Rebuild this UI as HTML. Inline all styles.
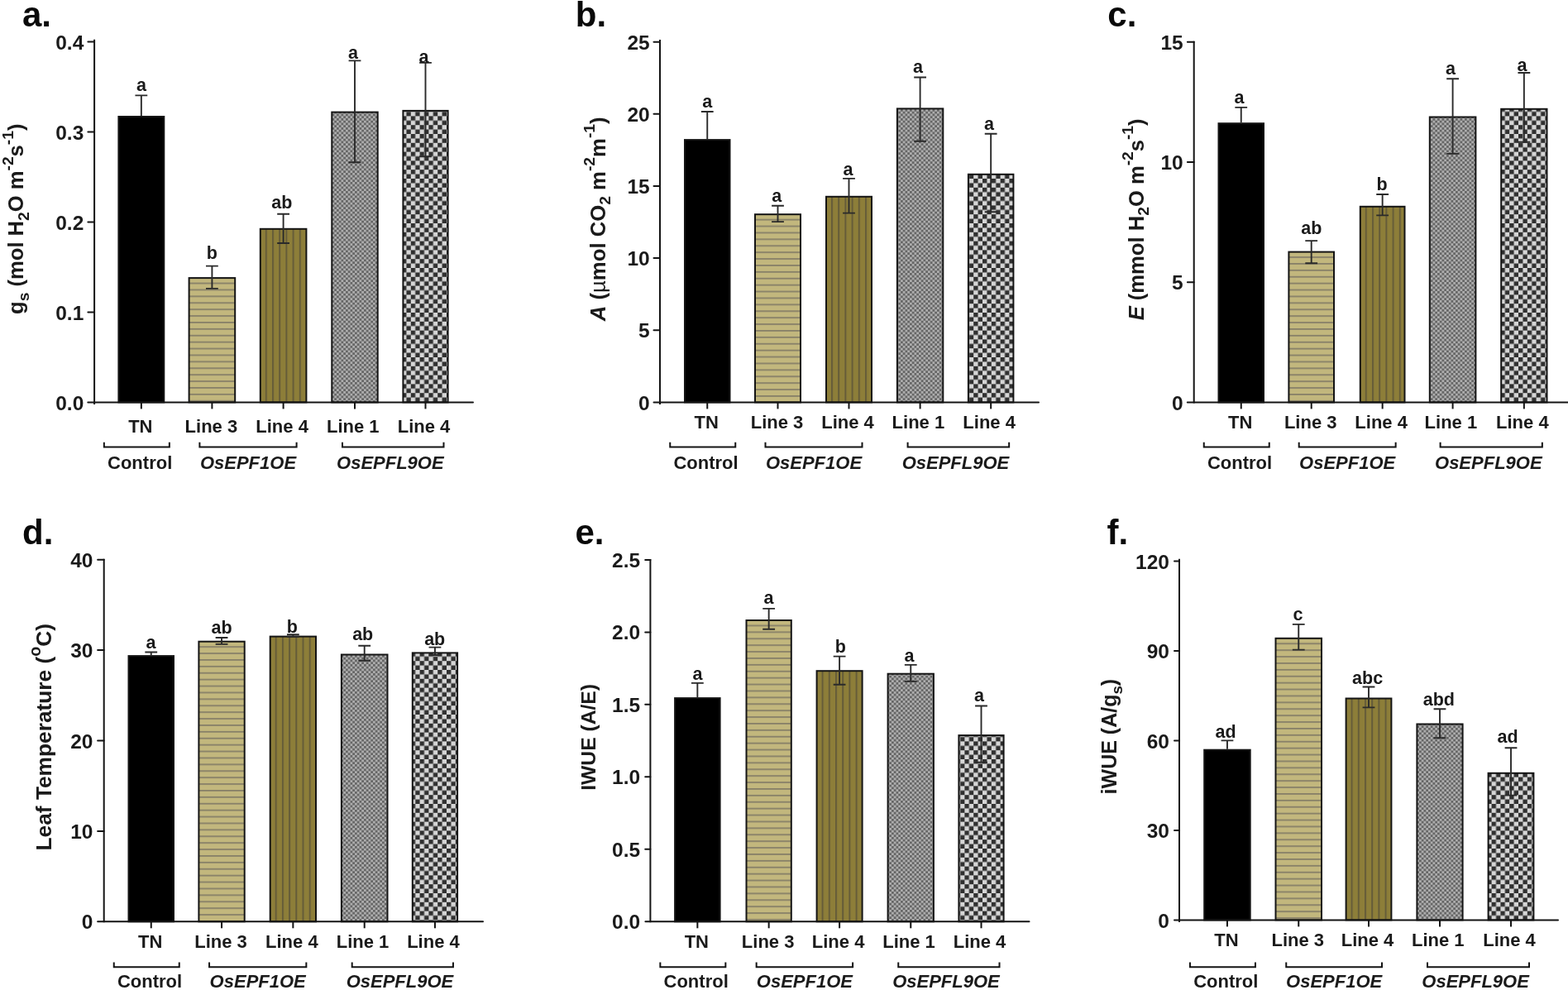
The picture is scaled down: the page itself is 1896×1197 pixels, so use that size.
<!DOCTYPE html>
<html><head><meta charset="utf-8"><title>Figure</title><style>
html,body{margin:0;padding:0;background:#fff;}
svg{display:block;}
text{font-family:"Liberation Sans", Arial, sans-serif;font-weight:bold;fill:#1a1a1a;}
.pl{font-size:42px;fill:#0a0a0a;}
.tl{font-size:24.5px;text-anchor:end;}
.cl{font-size:22px;text-anchor:middle;}
.gl{font-size:22px;text-anchor:middle;}
.sl{font-size:21.5px;text-anchor:middle;}
.yt{text-anchor:middle;}
</style></head>
<body>
<svg width="1896" height="1197" viewBox="0 0 1896 1197">
<defs>
<pattern id="hstripe" patternUnits="userSpaceOnUse" x="0" y="0.5" width="8" height="7.9">
<rect width="8" height="7.9" fill="#c2b77d"/><rect y="0" width="8" height="1.8" fill="#878068"/>
</pattern>
<pattern id="vstripe" patternUnits="userSpaceOnUse" x="0" y="0" width="8.2" height="8">
<rect width="8.2" height="8" fill="#8d7e39"/><rect x="0" width="2" height="8" fill="#655c39"/>
</pattern>
<pattern id="fcheck" patternUnits="userSpaceOnUse" x="0" y="0" width="5.5" height="5.5">
<rect width="5.5" height="5.5" fill="#adadad"/><rect width="2.75" height="2.75" fill="#666"/><rect x="2.75" y="2.75" width="2.75" height="2.75" fill="#666"/>
</pattern>
<pattern id="ccheck" patternUnits="userSpaceOnUse" x="0" y="0" width="10.8" height="10.8">
<rect width="10.8" height="10.8" fill="#d6d6d6"/><rect width="5.4" height="5.4" fill="#303030"/><rect x="5.4" y="5.4" width="5.4" height="5.4" fill="#303030"/>
</pattern>
</defs>
<rect width="1896" height="1197" fill="#fff"/>
<text x="27" y="32" class="pl">a.</text>
<defs><pattern id="hsa" href="#hstripe" x="0" y="341.6"/><pattern id="vsa" href="#vstripe" x="320.8" y="0"/></defs>
<rect x="143.4" y="141" width="54.9" height="345.4" fill="#000" stroke="#141414" stroke-width="2"/>
<rect x="228.6" y="336.1" width="55.6" height="150.3" fill="url(#hsa)" stroke="#141414" stroke-width="2"/>
<rect x="314.8" y="276.8" width="55.6" height="209.6" fill="url(#vsa)" stroke="#141414" stroke-width="2"/>
<rect x="401.3" y="135.6" width="55.4" height="350.8" fill="url(#fcheck)" stroke="#141414" stroke-width="2"/>
<rect x="487.4" y="133.9" width="54.2" height="352.5" fill="url(#ccheck)" stroke="#141414" stroke-width="2"/>
<path d="M170.85 115.4V140M163.45 115.4H178.25" stroke="#2a2a2a" stroke-width="1.9" fill="none"/>
<text x="170.95" y="110.2" class="sl">a</text>
<path d="M256.4 321.6V348.9M249 321.6H263.8M249 348.9H263.8" stroke="#2a2a2a" stroke-width="1.9" fill="none"/>
<text x="256.3" y="312.8" class="sl">b</text>
<path d="M342.6 258.8V294M335.2 258.8H350M335.2 294H350" stroke="#2a2a2a" stroke-width="1.9" fill="none"/>
<text x="340.9" y="251.7" class="sl">ab</text>
<path d="M429 73.4V196.2M421.6 73.4H436.4M421.6 196.2H436.4" stroke="#2a2a2a" stroke-width="1.9" fill="none"/>
<text x="427.1" y="71.4" class="sl">a</text>
<path d="M514.5 75.9V189.3M507.1 75.9H521.9M507.1 189.3H521.9" stroke="#2a2a2a" stroke-width="1.9" fill="none"/>
<text x="512.5" y="75.7" class="sl">a</text>
<path d="M114.1 47.8V489" stroke="#141414" stroke-width="2" fill="none"/>
<path d="M106.3 486.4H572" stroke="#141414" stroke-width="2" stroke-linecap="round" fill="none"/>
<text x="101.3" y="495.5" class="tl">0.0</text>
<path d="M106.4 377.45H114.1" stroke="#141414" stroke-width="2" stroke-linecap="round"/>
<text x="101.3" y="386.55" class="tl">0.1</text>
<path d="M106.4 268.5H114.1" stroke="#141414" stroke-width="2" stroke-linecap="round"/>
<text x="101.3" y="277.6" class="tl">0.2</text>
<path d="M106.4 159.55H114.1" stroke="#141414" stroke-width="2" stroke-linecap="round"/>
<text x="101.3" y="168.65" class="tl">0.3</text>
<path d="M106.4 50.6H114.1" stroke="#141414" stroke-width="2" stroke-linecap="round"/>
<text x="101.3" y="59.7" class="tl">0.4</text>
<path d="M170.85 486.4V494.4" stroke="#141414" stroke-width="2"/>
<text x="169.85" y="522.6" class="cl">TN</text>
<path d="M256.4 486.4V494.4" stroke="#141414" stroke-width="2"/>
<text x="255.4" y="522.6" class="cl">Line 3</text>
<path d="M342.6 486.4V494.4" stroke="#141414" stroke-width="2"/>
<text x="341.1" y="522.6" class="cl">Line 4</text>
<path d="M429 486.4V494.4" stroke="#141414" stroke-width="2"/>
<text x="426.8" y="522.6" class="cl">Line 1</text>
<path d="M514.5 486.4V494.4" stroke="#141414" stroke-width="2"/>
<text x="512.5" y="522.6" class="cl">Line 4</text>
<path d="M125.85 534.8V540.6H204.85V534.8" stroke="#141414" stroke-width="2" fill="none"/>
<text x="169.15" y="567.3" class="gl">Control</text>
<path d="M241.4 534.8V540.6H358.6V534.8" stroke="#141414" stroke-width="2" fill="none"/>
<text x="300" y="567.3" class="gl" font-style="italic">OsEPF1OE</text>
<path d="M414 534.8V540.6H536.5V534.8" stroke="#141414" stroke-width="2" fill="none"/>
<text x="471.85" y="567.3" class="gl" font-style="italic">OsEPFL9OE</text>
<text transform="translate(28.4 264.75) rotate(-90)" class="yt" font-size="25.6">g<tspan font-size="19.2" dy="6.4">s</tspan><tspan dy="-6.4"> (mol H</tspan><tspan font-size="19.2" dy="6.4">2</tspan><tspan dy="-6.4">O m</tspan><tspan font-size="19.2" dy="-12.54">-2</tspan><tspan dy="12.54">s</tspan><tspan font-size="19.2" dy="-12.54">-1</tspan><tspan dy="12.54">)</tspan></text>
<text x="695.8" y="32" class="pl">b.</text>
<defs><pattern id="hsb" href="#hstripe" x="0" y="264.7"/><pattern id="vsb" href="#vstripe" x="1005" y="0"/></defs>
<rect x="828" y="169.1" width="54.5" height="317.3" fill="#000" stroke="#141414" stroke-width="2"/>
<rect x="913" y="259.2" width="55" height="227.2" fill="url(#hsb)" stroke="#141414" stroke-width="2"/>
<rect x="999" y="237.8" width="55" height="248.6" fill="url(#vsb)" stroke="#141414" stroke-width="2"/>
<rect x="1084.9" y="131.4" width="55.4" height="355" fill="url(#fcheck)" stroke="#141414" stroke-width="2"/>
<rect x="1170.9" y="210.8" width="54.5" height="275.6" fill="url(#ccheck)" stroke="#141414" stroke-width="2"/>
<path d="M855.25 135V168.1M847.85 135H862.65" stroke="#2a2a2a" stroke-width="1.9" fill="none"/>
<text x="855.2" y="130.2" class="sl">a</text>
<path d="M940.5 248.8V268.1M933.1 248.8H947.9M933.1 268.1H947.9" stroke="#2a2a2a" stroke-width="1.9" fill="none"/>
<text x="939.3" y="243.8" class="sl">a</text>
<path d="M1026.5 215.9V257.6M1019.1 215.9H1033.9M1019.1 257.6H1033.9" stroke="#2a2a2a" stroke-width="1.9" fill="none"/>
<text x="1025.6" y="211.7" class="sl">a</text>
<path d="M1112.6 93.5V170.8M1105.2 93.5H1120M1105.2 170.8H1120" stroke="#2a2a2a" stroke-width="1.9" fill="none"/>
<text x="1110" y="87.6" class="sl">a</text>
<path d="M1198.15 161.7V256.3M1190.75 161.7H1205.55M1190.75 256.3H1205.55" stroke="#2a2a2a" stroke-width="1.9" fill="none"/>
<text x="1196" y="156.5" class="sl">a</text>
<path d="M798 47.9V489" stroke="#141414" stroke-width="2" fill="none"/>
<path d="M790.5 486.4H1256" stroke="#141414" stroke-width="2" stroke-linecap="round" fill="none"/>
<text x="785.7" y="495.5" class="tl">0</text>
<path d="M790.5 399.26H798" stroke="#141414" stroke-width="2" stroke-linecap="round"/>
<text x="785.7" y="408.36" class="tl">5</text>
<path d="M790.5 312.12H798" stroke="#141414" stroke-width="2" stroke-linecap="round"/>
<text x="785.7" y="321.22" class="tl">10</text>
<path d="M790.5 224.98H798" stroke="#141414" stroke-width="2" stroke-linecap="round"/>
<text x="785.7" y="234.08" class="tl">15</text>
<path d="M790.5 137.84H798" stroke="#141414" stroke-width="2" stroke-linecap="round"/>
<text x="785.7" y="146.94" class="tl">20</text>
<path d="M790.5 50.7H798" stroke="#141414" stroke-width="2" stroke-linecap="round"/>
<text x="785.7" y="59.8" class="tl">25</text>
<path d="M855.25 486.4V494.4" stroke="#141414" stroke-width="2"/>
<text x="854.25" y="518" class="cl">TN</text>
<path d="M940.5 486.4V494.4" stroke="#141414" stroke-width="2"/>
<text x="939.5" y="518" class="cl">Line 3</text>
<path d="M1026.5 486.4V494.4" stroke="#141414" stroke-width="2"/>
<text x="1025" y="518" class="cl">Line 4</text>
<path d="M1112.6 486.4V494.4" stroke="#141414" stroke-width="2"/>
<text x="1110.4" y="518" class="cl">Line 1</text>
<path d="M1198.15 486.4V494.4" stroke="#141414" stroke-width="2"/>
<text x="1196.15" y="518" class="cl">Line 4</text>
<path d="M810.25 534.8V540.6H889.25V534.8" stroke="#141414" stroke-width="2" fill="none"/>
<text x="853.55" y="567.3" class="gl">Control</text>
<path d="M925.5 534.8V540.6H1042.5V534.8" stroke="#141414" stroke-width="2" fill="none"/>
<text x="984" y="567.3" class="gl" font-style="italic">OsEPF1OE</text>
<path d="M1097.6 534.8V540.6H1220.15V534.8" stroke="#141414" stroke-width="2" fill="none"/>
<text x="1155.47" y="567.3" class="gl" font-style="italic">OsEPFL9OE</text>
<text transform="translate(731.8 264.8) rotate(-90)" class="yt" font-size="25.7"><tspan font-style="italic">A</tspan> (<tspan font-weight="normal">µ</tspan>mol CO<tspan font-size="19.27" dy="6.42">2</tspan><tspan dy="-6.42"> m</tspan><tspan font-size="19.27" dy="-12.59">-2</tspan><tspan dy="12.59">m</tspan><tspan font-size="19.27" dy="-12.59">-1</tspan><tspan dy="12.59">)</tspan></text>
<text x="1339.3" y="32" class="pl">c.</text>
<defs><pattern id="hsc" href="#hstripe" x="0" y="310.1"/><pattern id="vsc" href="#vstripe" x="1650.8" y="0"/></defs>
<rect x="1473.5" y="149.2" width="54.5" height="337.2" fill="#000" stroke="#141414" stroke-width="2"/>
<rect x="1558.4" y="304.6" width="54.6" height="181.8" fill="url(#hsc)" stroke="#141414" stroke-width="2"/>
<rect x="1644.8" y="249.8" width="53.7" height="236.6" fill="url(#vsc)" stroke="#141414" stroke-width="2"/>
<rect x="1728.8" y="141.5" width="55.6" height="344.9" fill="url(#fcheck)" stroke="#141414" stroke-width="2"/>
<rect x="1815.2" y="131.8" width="55.3" height="354.6" fill="url(#ccheck)" stroke="#141414" stroke-width="2"/>
<path d="M1500.75 129.9V148.2M1493.35 129.9H1508.15" stroke="#2a2a2a" stroke-width="1.9" fill="none"/>
<text x="1498.6" y="125" class="sl">a</text>
<path d="M1585.7 291.1V318.3M1578.3 291.1H1593.1M1578.3 318.3H1593.1" stroke="#2a2a2a" stroke-width="1.9" fill="none"/>
<text x="1585.8" y="282.8" class="sl">ab</text>
<path d="M1671.65 235V260.4M1664.25 235H1679.05M1664.25 260.4H1679.05" stroke="#2a2a2a" stroke-width="1.9" fill="none"/>
<text x="1671" y="230.4" class="sl">b</text>
<path d="M1756.6 95.3V185.9M1749.2 95.3H1764M1749.2 185.9H1764" stroke="#2a2a2a" stroke-width="1.9" fill="none"/>
<text x="1754.1" y="90.3" class="sl">a</text>
<path d="M1842.85 88V171.8M1835.45 88H1850.25M1835.45 171.8H1850.25" stroke="#2a2a2a" stroke-width="1.9" fill="none"/>
<text x="1840.5" y="85.7" class="sl">a</text>
<path d="M1443.7 49.7V487.4" stroke="#141414" stroke-width="2" fill="none"/>
<path d="M1435.8 486.4H1896" stroke="#141414" stroke-width="2" stroke-linecap="round" fill="none"/>
<text x="1430.7" y="495.5" class="tl">0</text>
<path d="M1435.9 341.17H1443.7" stroke="#141414" stroke-width="2" stroke-linecap="round"/>
<text x="1430.7" y="350.27" class="tl">5</text>
<path d="M1435.9 195.93H1443.7" stroke="#141414" stroke-width="2" stroke-linecap="round"/>
<text x="1430.7" y="205.03" class="tl">10</text>
<path d="M1435.9 50.7H1443.7" stroke="#141414" stroke-width="2" stroke-linecap="round"/>
<text x="1430.7" y="59.8" class="tl">15</text>
<path d="M1500.75 486.4V494.4" stroke="#141414" stroke-width="2"/>
<text x="1499.75" y="518" class="cl">TN</text>
<path d="M1585.7 486.4V494.4" stroke="#141414" stroke-width="2"/>
<text x="1584.7" y="518" class="cl">Line 3</text>
<path d="M1671.65 486.4V494.4" stroke="#141414" stroke-width="2"/>
<text x="1670.15" y="518" class="cl">Line 4</text>
<path d="M1756.6 486.4V494.4" stroke="#141414" stroke-width="2"/>
<text x="1754.4" y="518" class="cl">Line 1</text>
<path d="M1842.85 486.4V494.4" stroke="#141414" stroke-width="2"/>
<text x="1840.85" y="518" class="cl">Line 4</text>
<path d="M1455.75 534.8V540.6H1534.75V534.8" stroke="#141414" stroke-width="2" fill="none"/>
<text x="1499.05" y="567.3" class="gl">Control</text>
<path d="M1570.7 534.8V540.6H1687.65V534.8" stroke="#141414" stroke-width="2" fill="none"/>
<text x="1629.18" y="567.3" class="gl" font-style="italic">OsEPF1OE</text>
<path d="M1741.6 534.8V540.6H1864.85V534.8" stroke="#141414" stroke-width="2" fill="none"/>
<text x="1799.82" y="567.3" class="gl" font-style="italic">OsEPFL9OE</text>
<text transform="translate(1382.7 265.4) rotate(-90)" class="yt" font-size="25.6"><tspan font-style="italic">E</tspan> (mmol H<tspan font-size="19.2" dy="6.4">2</tspan><tspan dy="-6.4">O m</tspan><tspan font-size="19.2" dy="-12.54">-2</tspan><tspan dy="12.54">s</tspan><tspan font-size="19.2" dy="-12.54">-1</tspan><tspan dy="12.54">)</tspan></text>
<text x="27" y="658" class="pl">d.</text>
<defs><pattern id="hsd" href="#hstripe" x="0" y="781.2"/><pattern id="vsd" href="#vstripe" x="332.7" y="0"/></defs>
<rect x="155.5" y="793.1" width="54.5" height="321.2" fill="#000" stroke="#141414" stroke-width="2"/>
<rect x="240.4" y="775.7" width="55.3" height="338.6" fill="url(#hsd)" stroke="#141414" stroke-width="2"/>
<rect x="326.7" y="769.6" width="55.3" height="344.7" fill="url(#vsd)" stroke="#141414" stroke-width="2"/>
<rect x="412.9" y="791.5" width="55.6" height="322.8" fill="url(#fcheck)" stroke="#141414" stroke-width="2"/>
<rect x="498.8" y="789.4" width="54.3" height="324.9" fill="url(#ccheck)" stroke="#141414" stroke-width="2"/>
<path d="M182.75 788.5V792.1M175.35 788.5H190.15" stroke="#2a2a2a" stroke-width="1.9" fill="none"/>
<text x="182.5" y="783.5" class="sl">a</text>
<path d="M268.05 771V778.9M260.65 771H275.45M260.65 778.9H275.45" stroke="#2a2a2a" stroke-width="1.9" fill="none"/>
<text x="268" y="765.7" class="sl">ab</text>
<path d="M354.35 767.3V769.7M346.95 767.3H361.75M346.95 769.7H361.75" stroke="#2a2a2a" stroke-width="1.9" fill="none"/>
<text x="353.3" y="765" class="sl">b</text>
<path d="M440.7 780.8V798.7M433.3 780.8H448.1M433.3 798.7H448.1" stroke="#2a2a2a" stroke-width="1.9" fill="none"/>
<text x="438.7" y="774.1" class="sl">ab</text>
<path d="M525.95 782.6V792M518.55 782.6H533.35M518.55 792H533.35" stroke="#2a2a2a" stroke-width="1.9" fill="none"/>
<text x="525.7" y="779.5" class="sl">ab</text>
<path d="M125.7 675.7V1115.3" stroke="#141414" stroke-width="2" fill="none"/>
<path d="M118.1 1114.3H584" stroke="#141414" stroke-width="2" stroke-linecap="round" fill="none"/>
<text x="112.5" y="1123.4" class="tl">0</text>
<path d="M118.1 1004.9H125.7" stroke="#141414" stroke-width="2" stroke-linecap="round"/>
<text x="112.5" y="1014" class="tl">10</text>
<path d="M118.1 895.5H125.7" stroke="#141414" stroke-width="2" stroke-linecap="round"/>
<text x="112.5" y="904.6" class="tl">20</text>
<path d="M118.1 786.1H125.7" stroke="#141414" stroke-width="2" stroke-linecap="round"/>
<text x="112.5" y="795.2" class="tl">30</text>
<path d="M118.1 676.7H125.7" stroke="#141414" stroke-width="2" stroke-linecap="round"/>
<text x="112.5" y="685.8" class="tl">40</text>
<path d="M182.75 1114.3V1122.3" stroke="#141414" stroke-width="2"/>
<text x="181.75" y="1145.9" class="cl">TN</text>
<path d="M268.05 1114.3V1122.3" stroke="#141414" stroke-width="2"/>
<text x="267.05" y="1145.9" class="cl">Line 3</text>
<path d="M354.35 1114.3V1122.3" stroke="#141414" stroke-width="2"/>
<text x="352.85" y="1145.9" class="cl">Line 4</text>
<path d="M440.7 1114.3V1122.3" stroke="#141414" stroke-width="2"/>
<text x="438.5" y="1145.9" class="cl">Line 1</text>
<path d="M525.95 1114.3V1122.3" stroke="#141414" stroke-width="2"/>
<text x="523.95" y="1145.9" class="cl">Line 4</text>
<path d="M137.75 1163.5V1169.3H216.75V1163.5" stroke="#141414" stroke-width="2" fill="none"/>
<text x="181.05" y="1194.3" class="gl">Control</text>
<path d="M253.05 1163.5V1169.3H370.35V1163.5" stroke="#141414" stroke-width="2" fill="none"/>
<text x="311.7" y="1194.3" class="gl" font-style="italic">OsEPF1OE</text>
<path d="M425.7 1163.5V1169.3H547.95V1163.5" stroke="#141414" stroke-width="2" fill="none"/>
<text x="483.43" y="1194.3" class="gl" font-style="italic">OsEPFL9OE</text>
<text transform="translate(61.7 891.2) rotate(-90)" class="yt" font-size="26.3">Leaf Temperature (<tspan font-size="19.73" dy="-12.89">o</tspan><tspan dy="12.89">C)</tspan></text>
<text x="695.5" y="658.2" class="pl">e.</text>
<defs><pattern id="hse" href="#hstripe" x="0" y="755.5"/><pattern id="vse" href="#vstripe" x="993.6" y="0"/></defs>
<rect x="816.1" y="844.1" width="54.5" height="270.2" fill="#000" stroke="#141414" stroke-width="2"/>
<rect x="902.5" y="750" width="54.3" height="364.3" fill="url(#hse)" stroke="#141414" stroke-width="2"/>
<rect x="987.6" y="811.2" width="55" height="303.1" fill="url(#vse)" stroke="#141414" stroke-width="2"/>
<rect x="1073.6" y="814.7" width="55.3" height="299.6" fill="url(#fcheck)" stroke="#141414" stroke-width="2"/>
<rect x="1159.4" y="889.1" width="54.2" height="225.2" fill="url(#ccheck)" stroke="#141414" stroke-width="2"/>
<path d="M843.35 825.9V843.1M835.95 825.9H850.75" stroke="#2a2a2a" stroke-width="1.9" fill="none"/>
<text x="843.6" y="822" class="sl">a</text>
<path d="M929.65 735.9V760.8M922.25 735.9H937.05M922.25 760.8H937.05" stroke="#2a2a2a" stroke-width="1.9" fill="none"/>
<text x="929.6" y="730.2" class="sl">a</text>
<path d="M1015.1 793.6V827.8M1007.7 793.6H1022.5M1007.7 827.8H1022.5" stroke="#2a2a2a" stroke-width="1.9" fill="none"/>
<text x="1016.4" y="789.2" class="sl">b</text>
<path d="M1101.25 803.9V823.9M1093.85 803.9H1108.65M1093.85 823.9H1108.65" stroke="#2a2a2a" stroke-width="1.9" fill="none"/>
<text x="1099.4" y="799.8" class="sl">a</text>
<path d="M1186.5 853.5V921.7M1179.1 853.5H1193.9M1179.1 921.7H1193.9" stroke="#2a2a2a" stroke-width="1.9" fill="none"/>
<text x="1184" y="848" class="sl">a</text>
<path d="M786.4 675.9V1115.3" stroke="#141414" stroke-width="2" fill="none"/>
<path d="M780.4 1114.3H1244.5" stroke="#141414" stroke-width="2" stroke-linecap="round" fill="none"/>
<text x="774.1" y="1123.4" class="tl">0.0</text>
<path d="M780.2 1026.82H786.4" stroke="#141414" stroke-width="2" stroke-linecap="round"/>
<text x="774.1" y="1035.92" class="tl">0.5</text>
<path d="M780.2 939.34H786.4" stroke="#141414" stroke-width="2" stroke-linecap="round"/>
<text x="774.1" y="948.44" class="tl">1.0</text>
<path d="M780.2 851.86H786.4" stroke="#141414" stroke-width="2" stroke-linecap="round"/>
<text x="774.1" y="860.96" class="tl">1.5</text>
<path d="M780.2 764.38H786.4" stroke="#141414" stroke-width="2" stroke-linecap="round"/>
<text x="774.1" y="773.48" class="tl">2.0</text>
<path d="M780.2 676.9H786.4" stroke="#141414" stroke-width="2" stroke-linecap="round"/>
<text x="774.1" y="686" class="tl">2.5</text>
<path d="M843.35 1114.3V1122.3" stroke="#141414" stroke-width="2"/>
<text x="842.35" y="1145.9" class="cl">TN</text>
<path d="M929.65 1114.3V1122.3" stroke="#141414" stroke-width="2"/>
<text x="928.65" y="1145.9" class="cl">Line 3</text>
<path d="M1015.1 1114.3V1122.3" stroke="#141414" stroke-width="2"/>
<text x="1013.6" y="1145.9" class="cl">Line 4</text>
<path d="M1101.25 1114.3V1122.3" stroke="#141414" stroke-width="2"/>
<text x="1099.05" y="1145.9" class="cl">Line 1</text>
<path d="M1186.5 1114.3V1122.3" stroke="#141414" stroke-width="2"/>
<text x="1184.5" y="1145.9" class="cl">Line 4</text>
<path d="M798.35 1163.5V1169.3H877.35V1163.5" stroke="#141414" stroke-width="2" fill="none"/>
<text x="841.65" y="1194.3" class="gl">Control</text>
<path d="M914.65 1163.5V1169.3H1031.1V1163.5" stroke="#141414" stroke-width="2" fill="none"/>
<text x="972.88" y="1194.3" class="gl" font-style="italic">OsEPF1OE</text>
<path d="M1086.25 1163.5V1169.3H1208.5V1163.5" stroke="#141414" stroke-width="2" fill="none"/>
<text x="1143.97" y="1194.3" class="gl" font-style="italic">OsEPFL9OE</text>
<text transform="translate(720 891.4) rotate(-90)" class="yt" font-size="24.7">IWUE (A/E)</text>
<text x="1338.5" y="658" class="pl">f.</text>
<defs><pattern id="hsf" href="#hstripe" x="0" y="777.3"/><pattern id="vsf" href="#vstripe" x="1633.6" y="0"/></defs>
<rect x="1456.2" y="906.7" width="55.5" height="205.7" fill="#000" stroke="#141414" stroke-width="2"/>
<rect x="1542.5" y="771.8" width="55.5" height="340.6" fill="url(#hsf)" stroke="#141414" stroke-width="2"/>
<rect x="1627.6" y="844.5" width="54.8" height="267.9" fill="url(#vsf)" stroke="#141414" stroke-width="2"/>
<rect x="1713.4" y="875.5" width="55.2" height="236.9" fill="url(#fcheck)" stroke="#141414" stroke-width="2"/>
<rect x="1799.6" y="934.8" width="54.8" height="177.6" fill="url(#ccheck)" stroke="#141414" stroke-width="2"/>
<path d="M1483.95 895.4V905.7M1476.55 895.4H1491.35" stroke="#2a2a2a" stroke-width="1.9" fill="none"/>
<text x="1482.1" y="891.9" class="sl">ad</text>
<path d="M1570.25 754.9V785.6M1562.85 754.9H1577.65M1562.85 785.6H1577.65" stroke="#2a2a2a" stroke-width="1.9" fill="none"/>
<text x="1569.4" y="750.3" class="sl">c</text>
<path d="M1655 830.5V855.4M1647.6 830.5H1662.4M1647.6 855.4H1662.4" stroke="#2a2a2a" stroke-width="1.9" fill="none"/>
<text x="1653.6" y="826.5" class="sl">abc</text>
<path d="M1741 857.3V892.3M1733.6 857.3H1748.4M1733.6 892.3H1748.4" stroke="#2a2a2a" stroke-width="1.9" fill="none"/>
<text x="1739.8" y="853.2" class="sl">abd</text>
<path d="M1827 904.2V961.6M1819.6 904.2H1834.4M1819.6 961.6H1834.4" stroke="#2a2a2a" stroke-width="1.9" fill="none"/>
<text x="1823" y="897.7" class="sl">ad</text>
<path d="M1426 675.7V1115" stroke="#141414" stroke-width="2" fill="none"/>
<path d="M1420 1112.4H1884" stroke="#141414" stroke-width="2" stroke-linecap="round" fill="none"/>
<text x="1414" y="1121.5" class="tl">0</text>
<path d="M1420 1003.93H1426" stroke="#141414" stroke-width="2" stroke-linecap="round"/>
<text x="1414" y="1013.03" class="tl">30</text>
<path d="M1420 895.45H1426" stroke="#141414" stroke-width="2" stroke-linecap="round"/>
<text x="1414" y="904.55" class="tl">60</text>
<path d="M1420 786.98H1426" stroke="#141414" stroke-width="2" stroke-linecap="round"/>
<text x="1414" y="796.08" class="tl">90</text>
<path d="M1420 678.5H1426" stroke="#141414" stroke-width="2" stroke-linecap="round"/>
<text x="1414" y="687.6" class="tl">120</text>
<path d="M1483.95 1112.4V1120.4" stroke="#141414" stroke-width="2"/>
<text x="1482.95" y="1144" class="cl">TN</text>
<path d="M1570.25 1112.4V1120.4" stroke="#141414" stroke-width="2"/>
<text x="1569.25" y="1144" class="cl">Line 3</text>
<path d="M1655 1112.4V1120.4" stroke="#141414" stroke-width="2"/>
<text x="1653.5" y="1144" class="cl">Line 4</text>
<path d="M1741 1112.4V1120.4" stroke="#141414" stroke-width="2"/>
<text x="1738.8" y="1144" class="cl">Line 1</text>
<path d="M1827 1112.4V1120.4" stroke="#141414" stroke-width="2"/>
<text x="1825" y="1144" class="cl">Line 4</text>
<path d="M1438.95 1163.5V1169.3H1517.95V1163.5" stroke="#141414" stroke-width="2" fill="none"/>
<text x="1482.25" y="1194.3" class="gl">Control</text>
<path d="M1555.25 1163.5V1169.3H1671V1163.5" stroke="#141414" stroke-width="2" fill="none"/>
<text x="1613.12" y="1194.3" class="gl" font-style="italic">OsEPF1OE</text>
<path d="M1726 1163.5V1169.3H1849V1163.5" stroke="#141414" stroke-width="2" fill="none"/>
<text x="1784.1" y="1194.3" class="gl" font-style="italic">OsEPFL9OE</text>
<text transform="translate(1350.3 890.6) rotate(-90)" class="yt" font-size="25">iWUE (A/g<tspan font-size="18.75" dy="6.25">s</tspan><tspan dy="-6.25">)</tspan></text>
</svg>
</body></html>
